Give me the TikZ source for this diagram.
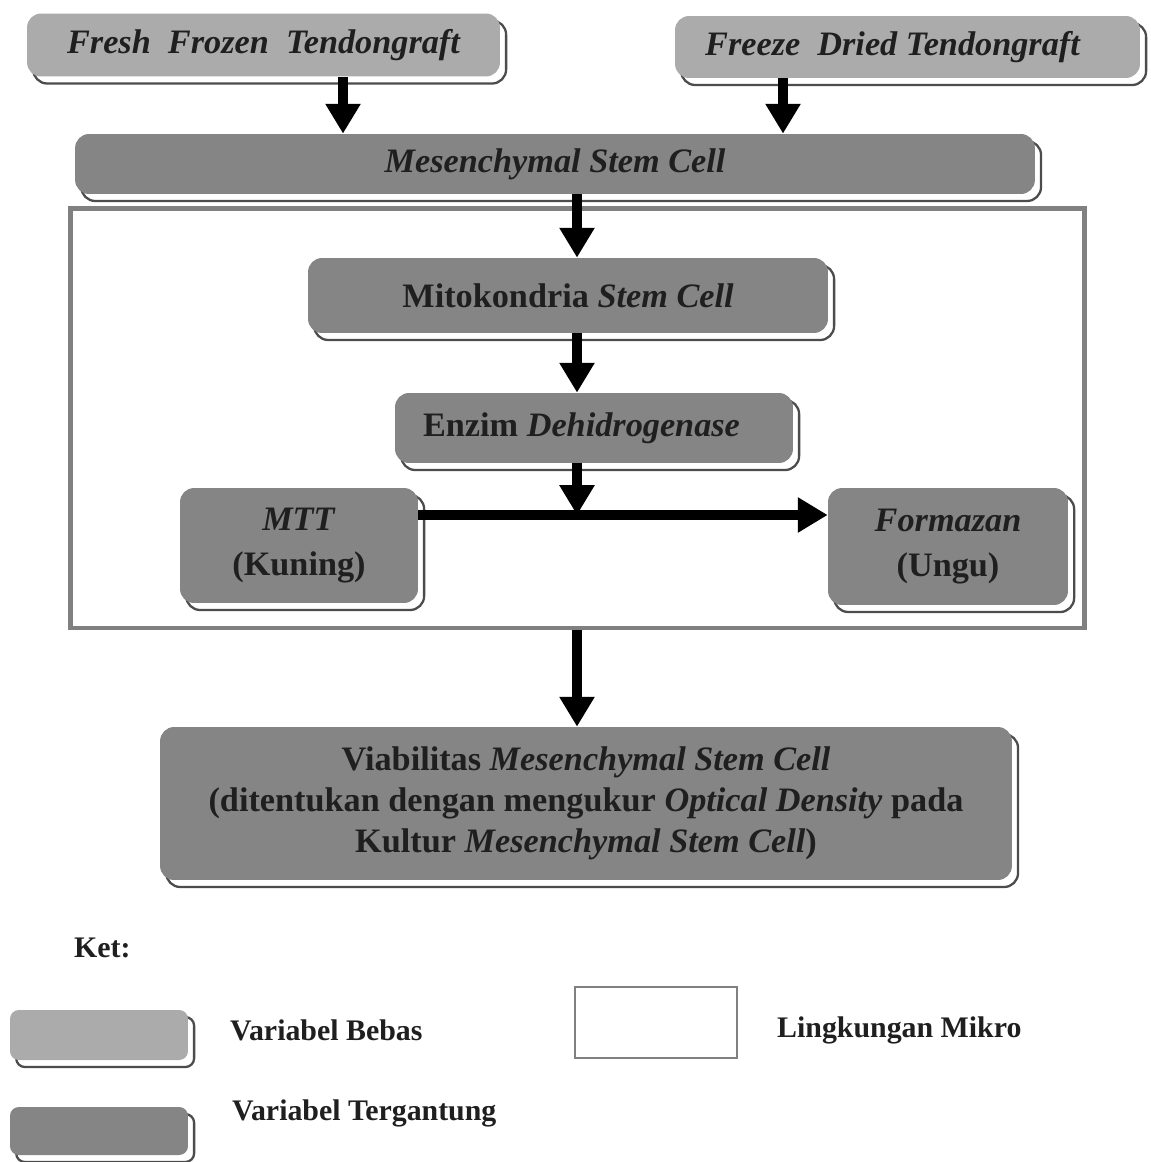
\documentclass[tikz,border=0pt]{standalone}
\usepackage{fontspec}
\setmainfont{Liberation Serif}
\usetikzlibrary{arrows.meta,shadows}
\definecolor{lightg}{gray}{0.67}
\definecolor{darkg}{gray}{0.52}
\definecolor{frameg}{gray}{0.5}
\definecolor{shad}{gray}{0.3}
\definecolor{txt}{gray}{0.12}
\tikzset{
 box/.style={rounded corners=8pt, draw=none, align=center, text=txt,
   font=\fontsize{19.5}{25}\selectfont\bfseries, inner sep=0pt,
   drop shadow={shadow xshift=3.5pt, shadow yshift=-4pt, fill=white, draw=shad, line width=1.3pt, opacity=1}},
 lbox/.style={box, fill=lightg},
 dbox/.style={box, fill=darkg},
 arr/.style={line width=5.8pt, -{Triangle[width=19pt,length=17pt]}},
 legtext/.style={anchor=west, text=txt, font=\fontsize{17}{20}\selectfont\bfseries},
}
\begin{document}
\begin{tikzpicture}[x=0.02cm,y=-0.02cm]
\useasboundingbox (0,0) rectangle (1151,1162);
% frame
\node[draw=frameg, line width=2.8pt, minimum width=20.3cm, minimum height=8.4cm, inner sep=0pt] (frame) at (577.5,418) {};
% boxes
\node[lbox, minimum width=9.46cm, minimum height=1.26cm] (ff) at (263.5,45) {\itshape Fresh\ \ Frozen\ \ Tendongraft};
\node[lbox, minimum width=9.3cm, minimum height=1.24cm] (fd) at (907.5,47) {\hspace*{-0.6cm}\itshape Freeze\ \ Dried Tendongraft};
\node[dbox, minimum width=19.2cm, minimum height=1.2cm] (msc) at (555,164) {\itshape Mesenchymal Stem Cell};
\node[dbox, minimum width=10.4cm, minimum height=1.5cm] (mito) at (568,295.5) {Mitokondria \textit{Stem Cell}};
\node[dbox, minimum width=7.96cm, minimum height=1.4cm] (enz) at (594,428) {\hspace*{-0.5cm}Enzim \textit{Dehidrogenase}};
\node[dbox, minimum width=4.76cm, minimum height=2.3cm, font=\fontsize{19.5}{25.5}\selectfont\bfseries] (mtt) at (299,545.5) {\textit{MTT}\\(Kuning)};
\node[dbox, minimum width=4.8cm, minimum height=2.34cm, font=\fontsize{19.5}{25.5}\selectfont\bfseries] (form) at (948,546.5) {\textit{Formazan}\\(Ungu)};
\node[dbox, minimum width=17.04cm, minimum height=3.06cm, font=\fontsize{19.5}{23.2}\selectfont\bfseries] (via) at (586,803.5) {Viabilitas \textit{Mesenchymal Stem Cell}\\(ditentukan dengan mengukur \textit{Optical Density} pada\\Kultur \textit{Mesenchymal Stem Cell})};
% arrows
\draw[arr] (ff.south -| 343,0) -- (msc.north -| 343,0);
\draw[arr] (fd.south -| 783,0) -- (msc.north -| 783,0);
\draw[arr] (msc.south -| 577,0) -- (mito.north -| 577,0);
\draw[arr] (mito.south -| 577,0) -- (enz.north -| 577,0);
\coordinate (join) at (577,515);
\draw[arr] (enz.south -| join) -- (join);
\draw[arr] (mtt.east |- join) -- (form.west |- join);
\draw[arr] (frame.south -| 577,0) -- (via.north -| 577,0);
% legend
\node[legtext] (ket) at (68,948) {Ket:};
\node[lbox, minimum width=3.56cm, minimum height=1.0cm, rounded corners=5pt] (lg1) at (99,1035) {};
\node[legtext] (lt1) at (224,1030) {Variabel Bebas};
\node[draw=frameg, line width=1.6pt, minimum width=3.24cm, minimum height=1.42cm, inner sep=0pt] (lg2) at (656,1022.5) {};
\node[legtext] (lt2) at (771,1030) {Lingkungan Mikro};
\node[dbox, minimum width=3.56cm, minimum height=0.96cm, rounded corners=5pt] (lg3) at (99,1131) {};
\node[legtext] (lt3) at (226,1113) {Variabel Tergantung};
\end{tikzpicture}
\end{document}
